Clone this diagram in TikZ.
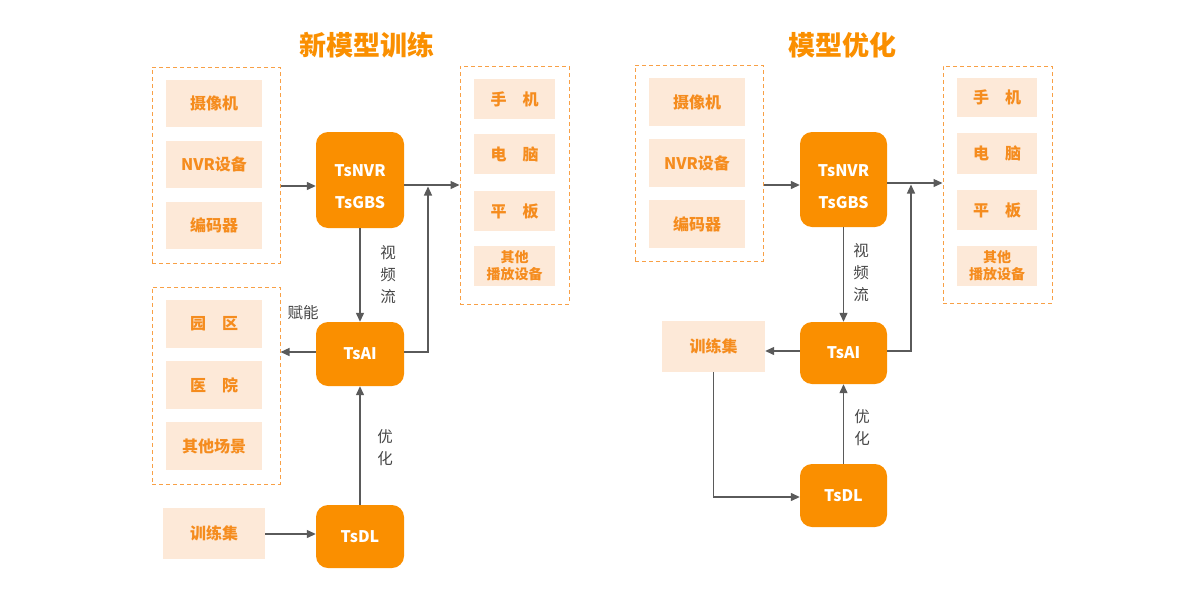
\documentclass[tikz,border=0pt]{standalone}
\usepackage{fontspec}
\setmainfont{Noto Sans CJK SC}
\usetikzlibrary{arrows.meta,calc}
\definecolor{org}{RGB}{250,143,0}
\definecolor{lite}{RGB}{253,233,216}
\definecolor{otxt}{RGB}{245,140,30}
\definecolor{dash}{RGB}{248,160,70}
\definecolor{gline}{RGB}{90,90,90}
\definecolor{gtxt}{RGB}{70,70,70}
\newcommand{\twol}[2]{\begin{tabular}{@{}c@{}}\rule{0pt}{35pt}#1\\#2\end{tabular}}
\tikzset{
  main/.style={fill=org,rounded corners=12pt,text=white,font=\fontsize{16}{32}\selectfont\bfseries,align=center,inner sep=0pt},
  lbox/.style={fill=lite,text=otxt,font=\fontsize{16}{19}\selectfont\bfseries,align=center,inner sep=0pt},
  sbox/.style={fill=lite,text=otxt,font=\fontsize{14}{17}\selectfont\bfseries,align=center,inner sep=0pt},
  dbox/.style={draw=dash,line width=1pt,dash pattern=on 4pt off 3pt,inner sep=0pt},
  conn/.style={draw=gline,line width=1.3pt},
  arr/.style={conn,-{Triangle[length=9pt,width=8pt]}},
  glab/.style={text=gtxt,font=\fontsize{15.5}{22}\selectfont,align=center,inner sep=0pt},
  ttl/.style={text=org,font=\fontsize{27}{30}\selectfont\bfseries,inner sep=0pt}
}
\begin{document}
\begin{tikzpicture}[x=1pt,y=-1pt]
\useasboundingbox (0,0) rectangle (1200,600);
% ===== left diagram =====
\node[ttl] (t1) at (367,45) {新模型训练};
\node[dbox,minimum width=128pt,minimum height=196pt] (L1) at (216,165) {};
\node[lbox,minimum width=96pt,minimum height=47pt] (cam1) at (214,103.5) {摄像机};
\node[lbox,minimum width=96pt,minimum height=47pt] (nvr1) at (214,164.5) {NVR设备};
\node[lbox,minimum width=96pt,minimum height=47pt] (enc1) at (214,225.5) {编码器};
\node[main,minimum width=88pt,minimum height=96pt] (tsnvr1) at (360,180) {\twol{TsNVR}{TsGBS}};
\node[dbox,minimum width=109pt,minimum height=238pt] (R1) at (514.5,185) {};
\node[lbox,minimum width=81pt,minimum height=40pt] (ph1) at (514.5,99) {手\hspace{1em}机};
\node[lbox,minimum width=81pt,minimum height=40pt] (pc1) at (514.5,154) {电\hspace{1em}脑};
\node[lbox,minimum width=81pt,minimum height=40pt] (pad1) at (514.5,211) {平\hspace{1em}板};
\node[sbox,minimum width=81pt,minimum height=40pt] (oth1) at (514.5,266) {其他\\播放设备};
\node[main,minimum width=88pt,minimum height=64pt] (tsai1) at (360,354) {TsAI};
\node[dbox,minimum width=128pt,minimum height=197pt] (L2) at (216,385.5) {};
\node[lbox,minimum width=96pt,minimum height=48pt] (park) at (214,324) {园\hspace{1em}区};
\node[lbox,minimum width=96pt,minimum height=48pt] (hosp) at (214,385) {医\hspace{1em}院};
\node[lbox,minimum width=96pt,minimum height=48pt] (scen) at (214,446) {其他场景};
\node[main,minimum width=88pt,minimum height=63pt] (tsdl1) at (360,536.5) {TsDL};
\node[lbox,minimum width=102pt,minimum height=51pt] (tr1) at (214,533.5) {训练集};
\coordinate (j1) at (428,185);
\draw[arr] (L1.east |- 0,186) -- (tsnvr1.west |- 0,186);
\draw[arr] (tsnvr1.east |- 0,185) -- (R1.west |- 0,185);
\draw[arr] (tsai1.east |- 0,352) -| ([yshift=-1.5pt]j1);
\draw[arr] (tsnvr1.south) -- (tsai1.north);
\draw[arr] (tsai1.west |- 0,352) -- (L2.east |- 0,352);
\draw[arr] (tsdl1.north) -- (tsai1.south);
\draw[arr] (tr1.east |- 0,534) -- (tsdl1.west |- 0,534);
\node[glab] (v1) at (388,275) {视\\频\\流};
\node[glab] (f1) at (303,313) {赋能};
\node[glab] (o1) at (385,448) {优\\化};
% ===== right diagram =====
\node[ttl] (t2) at (842,45) {模型优化};
\node[dbox,minimum width=128pt,minimum height=196pt] (L3) at (699,163) {};
\node[lbox,minimum width=96pt,minimum height=48pt] (cam2) at (697,102) {摄像机};
\node[lbox,minimum width=96pt,minimum height=48pt] (nvr2) at (697,163) {NVR设备};
\node[lbox,minimum width=96pt,minimum height=48pt] (enc2) at (697,224) {编码器};
\node[main,minimum width=87pt,minimum height=95pt] (tsnvr2) at (843.5,179.5) {\twol{TsNVR}{TsGBS}};
\node[dbox,minimum width=109pt,minimum height=237pt] (R2) at (997.5,184.5) {};
\node[lbox,minimum width=80pt,minimum height=39pt] (ph2) at (997,97.5) {手\hspace{1em}机};
\node[lbox,minimum width=80pt,minimum height=41pt] (pc2) at (997,153.5) {电\hspace{1em}脑};
\node[lbox,minimum width=80pt,minimum height=40pt] (pad2) at (997,210) {平\hspace{1em}板};
\node[sbox,minimum width=80pt,minimum height=40pt] (oth2) at (997,266) {其他\\播放设备};
\node[main,minimum width=87pt,minimum height=62pt] (tsai2) at (843.5,353) {TsAI};
\node[lbox,minimum width=103pt,minimum height=51pt] (tr2) at (713.5,346.5) {训练集};
\node[main,minimum width=87pt,minimum height=63pt] (tsdl2) at (843.5,495.5) {TsDL};
\coordinate (j2) at (911,183);
\draw[arr] (L3.east |- 0,185) -- (tsnvr2.west |- 0,185);
\draw[arr] (tsnvr2.east |- 0,183) -- (R2.west |- 0,183);
\draw[arr] (tsai2.east |- 0,351) -| ([yshift=-1.5pt]j2);
\draw[arr] (tsnvr2.south) -- (tsai2.north);
\draw[arr] (tsai2.west |- 0,351) -- (tr2.east |- 0,351);
\draw[arr] (tr2.south) |- (tsdl2.west |- 0,497);
\draw[arr] (tsdl2.north) -- (tsai2.south);
\node[glab] (v2) at (861,273) {视\\频\\流};
\node[glab] (o2) at (862,428) {优\\化};
\end{tikzpicture}
\end{document}
